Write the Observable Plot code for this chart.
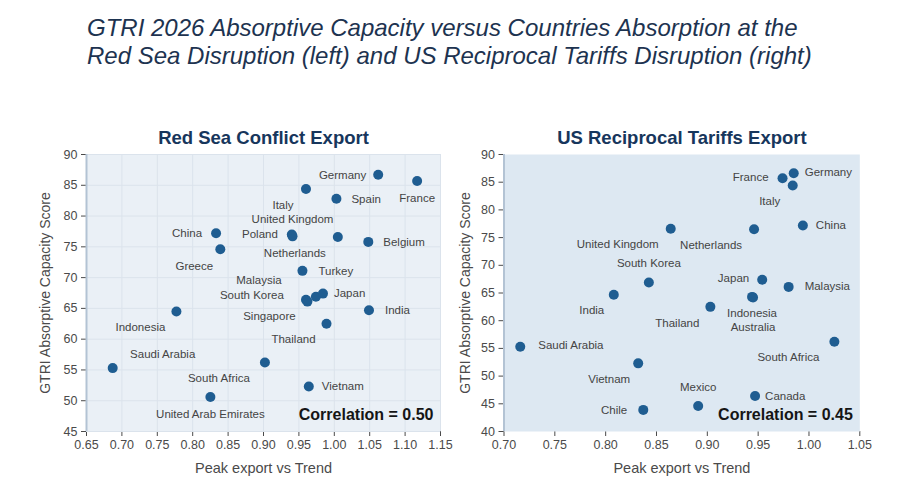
<!DOCTYPE html>
<html>
<head>
<meta charset="utf-8">
<script src="https://cdn.jsdelivr.net/npm/d3@7"></script>
<script src="https://cdn.jsdelivr.net/npm/@observablehq/plot@0.6"></script>
<style>
  html, body { margin: 0; padding: 0; background: #fff; }
  body { width: 900px; height: 492px; position: relative; overflow: hidden; font-family: "Liberation Sans", Arial, sans-serif; }
  #title { position: absolute; left: 87px; top: 14px; font-style: italic; font-size: 24px; line-height: 28px; color: #1d3350; white-space: nowrap; }
  #left { position: absolute; left: 0; top: 100px; width: 450px; height: 392px; }
  #right { position: absolute; left: 450px; top: 100px; width: 450px; height: 392px; }
  svg { max-width: none !important; overflow: visible; }
</style>
</head>
<body>
<div id="title">GTRI 2026 Absorptive Capacity versus Countries Absorption at the<br>Red Sea Disruption (left) and US Reciprocal Tariffs Disruption (right)</div>
<div id="left"></div>
<div id="right"></div>
<script>
// ---------- Data: Red Sea Conflict Export (left) ----------
const redSeaCountries = ["Germany","France","Italy","Spain","China","Poland","United Kingdom","Netherlands","Belgium","Greece","Turkey","Malaysia","South Korea","Japan","Singapore","India","Indonesia","Thailand","Saudi Arabia","South Africa","Vietnam","United Arab Emirates"];
const redSeaPeak      = [1.062, 1.117, 0.960, 1.003, 0.833, 0.940, 0.941, 1.005, 1.048, 0.839, 0.955, 0.960, 0.974, 0.984, 0.962, 1.049, 0.777, 0.989, 0.687, 0.902, 0.964, 0.825];
const redSeaScore     = [86.7, 85.7, 84.4, 82.8, 77.2, 77.0, 76.7, 76.6, 75.8, 74.6, 71.1, 66.4, 66.9, 67.4, 66.1, 64.7, 64.5, 62.5, 55.3, 56.2, 52.3, 50.6];
const redSeaCorrelation = "0.50";
const redSeaXTicks = [0.65, 0.70, 0.75, 0.80, 0.85, 0.90, 0.95, 1.00, 1.05, 1.10, 1.15];
const redSeaYTicks = [45, 50, 55, 60, 65, 70, 75, 80, 85, 90];

// ---------- Data: US Reciprocal Tariffs Export (right) ----------
const tariffCountries = ["Germany","France","Italy","China","United Kingdom","Netherlands","South Korea","Japan","Malaysia","India","Indonesia","Australia","Thailand","Saudi Arabia","South Africa","Vietnam","Canada","Mexico","Chile"];
const tariffPeak      = [0.985, 0.974, 0.984, 0.994, 0.864, 0.946, 0.8425, 0.954, 0.980, 0.808, 0.944, 0.945, 0.903, 0.716, 1.025, 0.832, 0.947, 0.891, 0.837];
const tariffScore     = [86.6, 85.7, 84.4, 77.2, 76.6, 76.5, 66.9, 67.4, 66.1, 64.7, 64.3, 64.2, 62.5, 55.3, 56.2, 52.3, 46.4, 44.6, 43.9];
const tariffCorrelation = "0.45";
const tariffXTicks = [0.70, 0.75, 0.80, 0.85, 0.90, 0.95, 1.00, 1.05];
const tariffYTicks = [40, 45, 50, 55, 60, 65, 70, 75, 80, 85, 90];

// ---------- Text ----------
const xAxisTitle = "Peak export vs Trend";
const yAxisTitle = "GTRI Absorptive Capacity Score";

// ---------- Label placement (layout only: pixel offsets + anchor) ----------
const redSeaLabelPlacement = {
  "Germany": [-12, 0, "end"], "France": [0, 17, "middle"], "Italy": [-23, 16, "middle"],
  "Spain": [15, 0, "start"], "China": [-14, 0, "end"], "Poland": [-14, 0, "end"],
  "United Kingdom": [0, -17, "middle"], "Netherlands": [-43, 16, "middle"], "Belgium": [15, 0, "start"],
  "Greece": [-26, 17, "middle"], "Turkey": [16, 0, "start"], "Malaysia": [-47, -19, "middle"],
  "South Korea": [-32, -1, "end"], "Japan": [11, 0, "start"], "Singapore": [-38, 15, "middle"],
  "India": [16, 0, "start"], "Indonesia": [-36, 16, "middle"], "Thailand": [-33, 16, "middle"],
  "Saudi Arabia": [50, -14, "middle"], "South Africa": [-46, 16, "middle"], "Vietnam": [13, 0, "start"],
  "United Arab Emirates": [0, 17, "middle"]
};
const tariffLabelPlacement = {
  "Germany": [11, -1, "start"], "France": [-14, -1, "end"], "Italy": [-23, 16, "middle"],
  "China": [13, 0, "start"], "United Kingdom": [-53, 16, "middle"], "Netherlands": [-43, 16, "middle"],
  "South Korea": [0, -19, "middle"], "Japan": [-13, -1, "end"], "Malaysia": [16, -1, "start"],
  "India": [-22, 16, "middle"], "Indonesia": [0, 16, "middle"], "Australia": [0, 30, "middle"],
  "Thailand": [-33, 16, "middle"], "Saudi Arabia": [18, -1, "start"], "South Africa": [-46, 16, "middle"],
  "Vietnam": [-29, 16, "middle"], "Canada": [10, 0, "start"], "Mexico": [0, -19, "middle"],
  "Chile": [-16, 0, "end"]
};

const FONT = "'Liberation Sans', Arial, sans-serif";
const DOT = "#1f5d91";

function panel({countries, peak, score, corr, xTicks, yTicks, placement, title, bg, grid, marginLeft, marginRight, yLabelOffset}) {
  const data = countries.map((c, i) => ({country: c, peak: peak[i], score: score[i]}));
  const labelMarks = data.map(d => {
    const [dx, dy, anchor] = placement[d.country];
    return Plot.text([d], {x: "peak", y: "score", text: "country", dx, dy, textAnchor: anchor,
      fill: "#444", fontSize: 11.5});
  });
  const marks = [
    Plot.frame({fill: bg, stroke: null}),
  ];
  if (grid) {
    marks.push(Plot.ruleX(xTicks, {stroke: grid, strokeWidth: 1}));
    marks.push(Plot.ruleY(yTicks, {stroke: grid, strokeWidth: 1}));
  }
  marks.push(Plot.ruleX([xTicks[0]], {stroke: "#b3c3d4", strokeWidth: 2}));
  marks.push(Plot.dot(data, {x: "peak", y: "score", r: 5, fill: DOT, stroke: null}));
  marks.push(...labelMarks);
  marks.push(Plot.text([`Correlation = ${corr}`], {frameAnchor: "bottom-right", textAnchor: "end", lineAnchor: "middle",
    dx: -7, dy: -17, fontWeight: "bold", fontSize: 16, fill: "#151515"}));
  marks.push(Plot.text([title], {frameAnchor: "top", textAnchor: "middle", lineAnchor: "middle",
    dy: -16, fontWeight: "bold", fontSize: 18.5, fill: "#17365c"}));
  marks.push(Plot.text([xAxisTitle], {frameAnchor: "bottom", textAnchor: "middle", lineAnchor: "middle",
    dy: 37, fontSize: 14.5, fill: "#4a4a4a"}));
  marks.push(Plot.text([yAxisTitle], {frameAnchor: "left", textAnchor: "middle", lineAnchor: "middle",
    rotate: -90, dx: -yLabelOffset, fontSize: 14, fill: "#4a4a4a"}));
  return Plot.plot({
    width: 450, height: 392,
    marginLeft, marginRight, marginTop: 54, marginBottom: 61,
    style: {fontFamily: FONT, fontSize: "12.5px", color: "#4a4a4a", background: "transparent", overflow: "visible", maxWidth: "none"},
    x: {domain: [d3.min(xTicks), d3.max(xTicks)], ticks: xTicks, tickFormat: d3.format(".2f"), tickSize: 5, label: null},
    y: {domain: [d3.min(yTicks), d3.max(yTicks)], ticks: yTicks, tickFormat: d3.format("d"), tickSize: 5, label: null},
    marks
  });
}

document.getElementById("left").appendChild(panel({
  countries: redSeaCountries, peak: redSeaPeak, score: redSeaScore, corr: redSeaCorrelation,
  xTicks: redSeaXTicks, yTicks: redSeaYTicks, placement: redSeaLabelPlacement,
  title: "Red Sea Conflict Export", bg: "#eaf0f6", grid: "#dbe3ec", marginLeft: 86, marginRight: 10, yLabelOffset: 41
}));
document.getElementById("right").appendChild(panel({
  countries: tariffCountries, peak: tariffPeak, score: tariffScore, corr: tariffCorrelation,
  xTicks: tariffXTicks, yTicks: tariffYTicks, placement: tariffLabelPlacement,
  title: "US Reciprocal Tariffs Export", bg: "#dde8f2", grid: null, marginLeft: 53.5, marginRight: 40.7, yLabelOffset: 38.5
}));
</script>
</body>
</html>
